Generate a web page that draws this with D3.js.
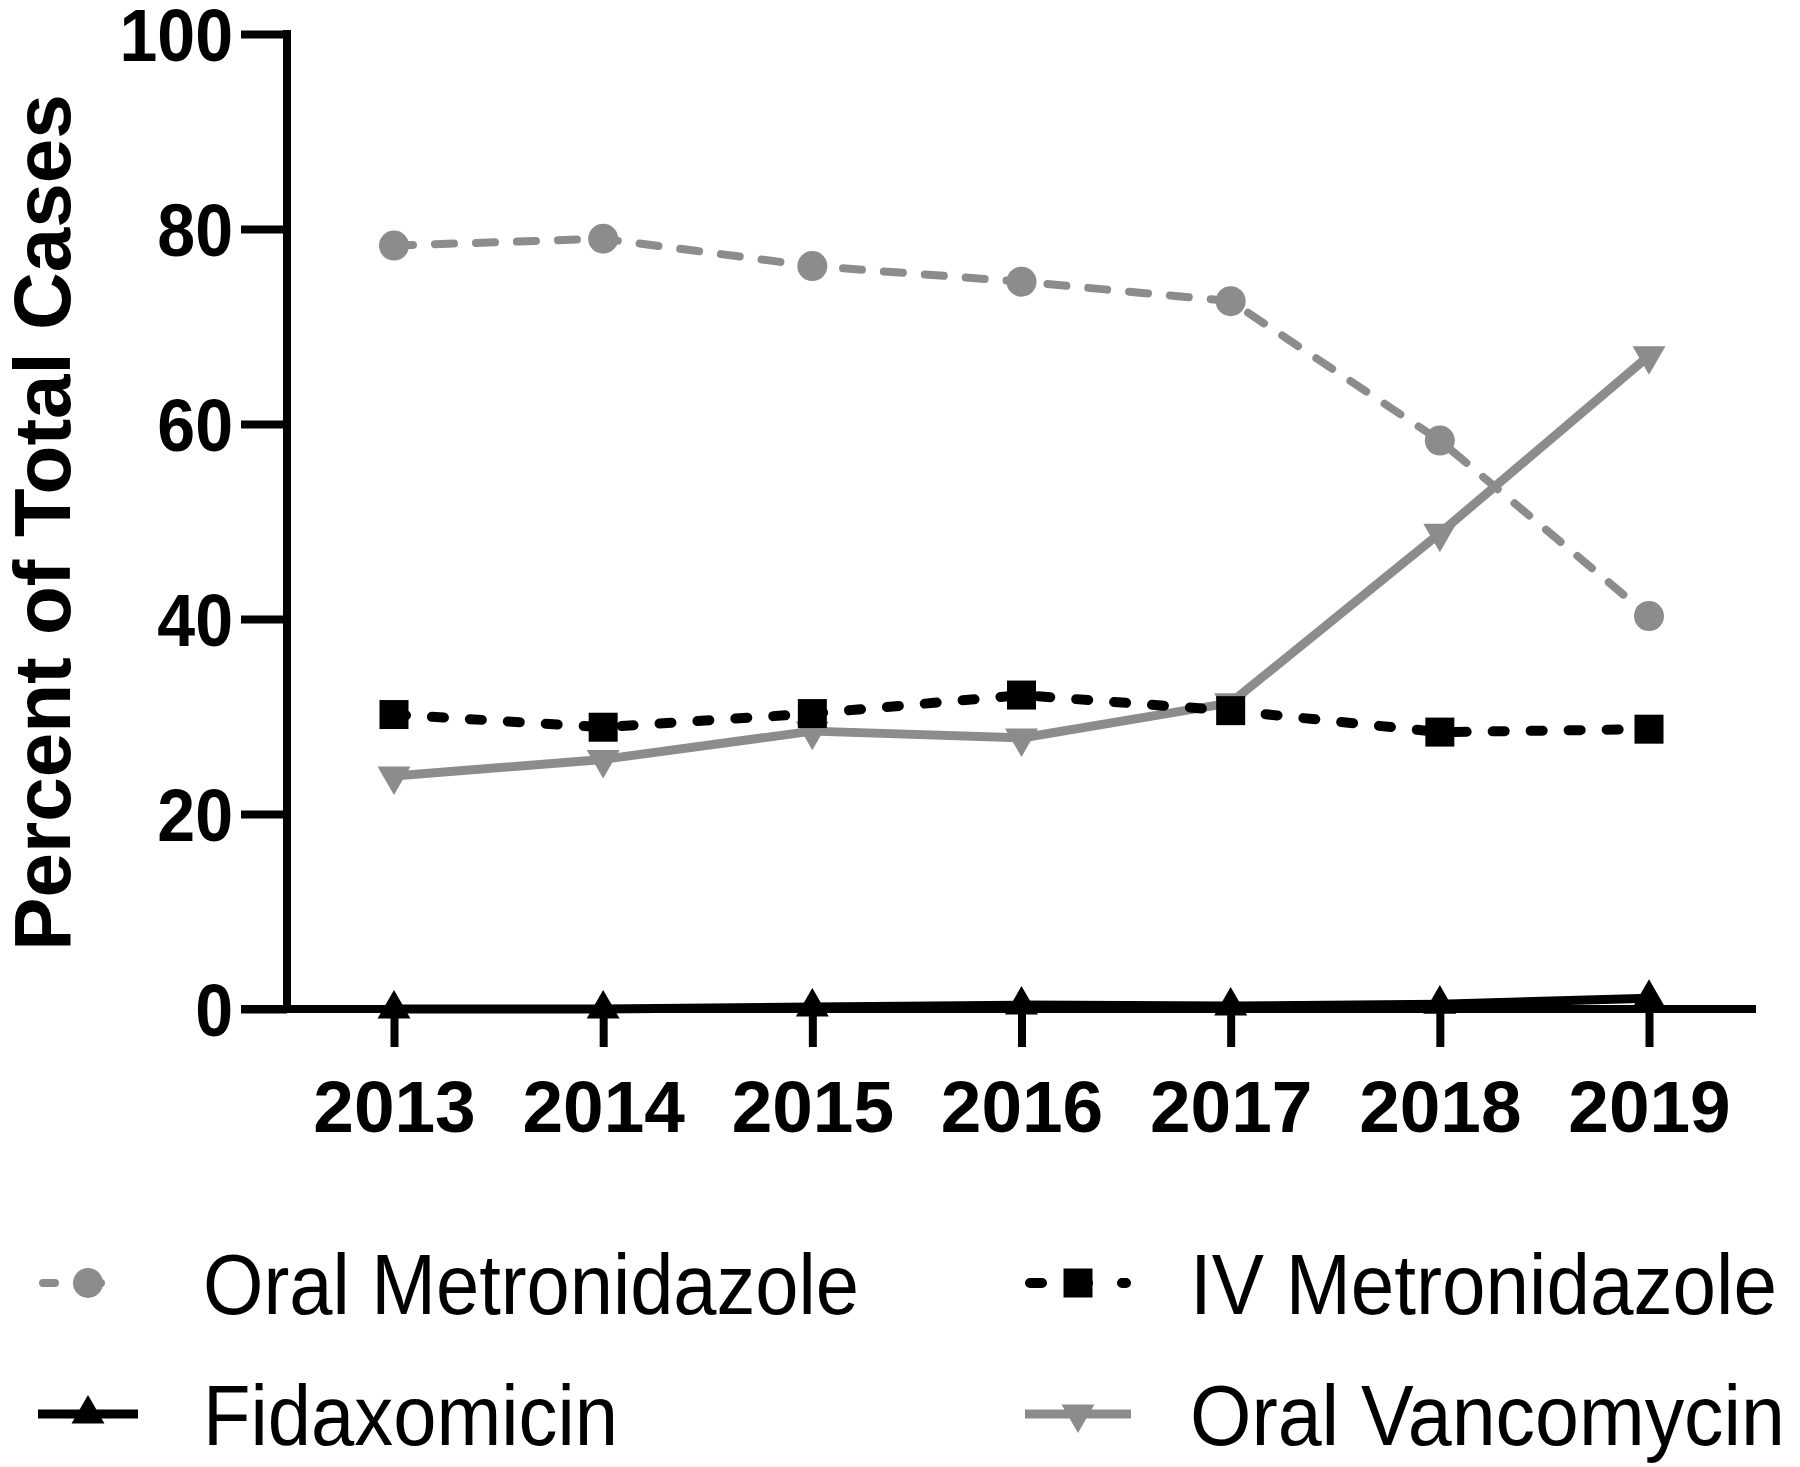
<!DOCTYPE html>
<html><head><meta charset="utf-8">
<script src="https://cdn.jsdelivr.net/npm/d3@7"></script>
<style>body{margin:0;background:#fff}svg{display:block}</style>
</head><body>
<script>
const years = [2013, 2014, 2015, 2016, 2017, 2018, 2019];
const oralMetronidazole = [78.3, 79.0, 76.2, 74.6, 72.6, 58.3, 40.3];
const ivMetronidazole = [30.2, 28.9, 30.3, 32.2, 30.6, 28.4, 28.7];
const fidaxomicin = [0.0, 0.0, 0.2, 0.4, 0.3, 0.5, 1.1];
const oralVancomycin = [23.9, 25.6, 28.5, 27.8, 31.4, 48.8, 67.0];
const yTicks = [0, 20, 40, 60, 80, 100];
const yTitle = "Percent of Total Cases";
const seriesNames = ["Oral Metronidazole", "IV Metronidazole", "Fidaxomicin", "Oral Vancomycin"];

const W = 1800, H = 1467;
const GREY = "#8c8c8c";
const FONT = "Liberation Sans, Arial, sans-serif";
const svg = d3.select("body").append("svg").attr("width", W).attr("height", H);

const x = d3.scaleLinear().domain([2013, 2019]).range([394, 1649]);
const y = d3.scaleLinear().domain([0, 100]).range([1009, 34]);

// axes
const yAxis = svg.append("g").attr("transform", "translate(287,0)")
  .call(d3.axisLeft(y).tickValues(yTicks).tickSize(46).tickSizeOuter(0).tickPadding(8));
yAxis.select(".domain").remove();
yAxis.selectAll(".tick line").attr("stroke", "#000").attr("stroke-width", 8);
yAxis.selectAll(".tick text").attr("font-family", FONT)
  .attr("font-weight", "bold").attr("font-size", 74).attr("fill", "#000").attr("dy", "0.36em")
  .each(function () {
    const w = this.getComputedTextLength();
    d3.select(this).attr("textLength", w * 0.92).attr("lengthAdjust", "spacingAndGlyphs");
  });

const xAxis = svg.append("g").attr("transform", "translate(0,1009)")
  .call(d3.axisBottom(x).tickValues(years).tickFormat(d3.format("d")).tickSize(38).tickSizeOuter(0).tickPadding(33));
xAxis.select(".domain").remove();
xAxis.selectAll(".tick line").attr("stroke", "#000").attr("stroke-width", 8);
xAxis.selectAll(".tick text").attr("font-family", FONT)
  .attr("font-weight", "bold").attr("font-size", 73).attr("fill", "#000");

// axis lines
svg.append("line").attr("x1", 287).attr("x2", 287).attr("y1", y(100) - 4).attr("y2", y(0) + 4)
  .attr("stroke", "#000").attr("stroke-width", 8);
svg.append("line").attr("x1", 241).attr("x2", 1756).attr("y1", y(0)).attr("y2", y(0))
  .attr("stroke", "#000").attr("stroke-width", 8);

// y title
svg.append("text").attr("transform", `translate(70,${(y(0) + y(100)) / 2 + 1}) rotate(-90)`)
  .attr("text-anchor", "middle").attr("font-family", FONT)
  .attr("font-weight", "bold").attr("font-size", 80).attr("fill", "#000").text(yTitle);

const sym = {
  circle: d3.symbol().type(d3.symbolCircle).size(Math.PI * 15 * 15),
  square: d3.symbol().type(d3.symbolSquare).size(29 * 29),
  up: d3.symbol().type(d3.symbolTriangle).size(470),
  down: d3.symbol().type(d3.symbolTriangle).size(470),
};

const series = [
  {name: seriesNames[0], vals: oralMetronidazole, color: GREY, width: 8, dash: "19,22", cap: "round", marker: "circle"},
  {name: seriesNames[3], vals: oralVancomycin, color: GREY, width: 9, dash: null, cap: "butt", marker: "down"},
  {name: seriesNames[1], vals: ivMetronidazole, color: "#000", width: 10, dash: "12,26", cap: "round", marker: "square"},
  {name: seriesNames[2], vals: fidaxomicin, color: "#000", width: 9, dash: null, cap: "butt", marker: "up"},
];

const line = d3.line().x((d, i) => x(years[i])).y(d => y(d));

function markerPath(m) { return sym[m](); }

series.forEach(s => {
  const g = svg.append("g");
  g.append("path").attr("d", line(s.vals)).attr("fill", "none").attr("stroke", s.color)
    .attr("stroke-width", s.width).attr("stroke-linecap", s.cap).attr("stroke-linejoin", "round")
    .attr("stroke-dasharray", s.dash);
  g.selectAll("path.m").data(s.vals).join("path").attr("class", "m")
    .attr("d", markerPath(s.marker))
    .attr("transform", (d, i) => `translate(${x(years[i])},${y(d)})` + (s.marker === "down" ? " rotate(180)" : ""))
    .attr("fill", s.color);
});

// legend
const legend = [
  {s: series[0], x0: 38, x1: 138, cy: 1283, tx: 203, tw: 656},
  {s: series[2], x0: 1025, x1: 1131, cy: 1283, tx: 1190, tw: 587},
  {s: series[3], x0: 38, x1: 138, cy: 1414, tx: 203, tw: 415},
  {s: series[1], x0: 1025, x1: 1131, cy: 1414, tx: 1190, tw: 595},
];
legend.forEach(l => {
  const g = svg.append("g");
  g.append("line").attr("x1", l.x0 + (l.s.dash ? 5 : 0)).attr("x2", l.x1 - (l.s.dash ? 5 : 0))
    .attr("y1", l.cy).attr("y2", l.cy)
    .attr("stroke", l.s.color).attr("stroke-width", l.s.width).attr("stroke-linecap", l.s.cap)
    .attr("stroke-dasharray", l.s.dash ? "12,34" : null);
  g.append("path").attr("d", markerPath(l.s.marker))
    .attr("transform", `translate(${(l.x0 + l.x1) / 2},${l.cy})` + (l.s.marker === "down" ? " rotate(180)" : ""))
    .attr("fill", l.s.color);
  g.append("text").attr("x", l.tx).attr("y", l.cy + 31).attr("font-family", FONT)
    .attr("font-size", 86).attr("fill", "#000").attr("textLength", l.tw).attr("lengthAdjust", "spacingAndGlyphs")
    .text(l.s.name);
});
</script>
</body></html>
